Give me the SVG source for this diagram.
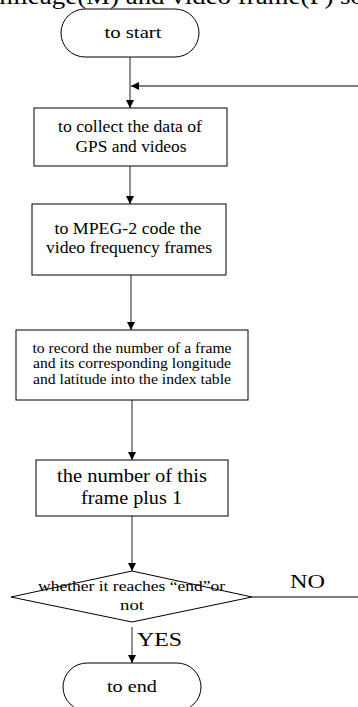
<svg xmlns="http://www.w3.org/2000/svg" width="358" height="707" viewBox="0 0 358 707">
  <defs>
    <marker id="arrow" viewBox="0 0 10 10" refX="10" refY="5" markerWidth="8" markerHeight="8" markerUnits="userSpaceOnUse" orient="auto">
      <path d="M0,0 L10,5 L0,10 Z" fill="#000"/>
    </marker>
    <style>
      .shape { fill: #fff; stroke: #000; stroke-width: 1; }
      .conn { fill: none; stroke: #555; stroke-width: 1.3; }
      text { font-family: "Liberation Serif", "Times New Roman", serif; fill: #000; text-anchor: middle; }
    </style>
  </defs>

  <!-- caption line running off the top edge -->
  <text x="178" y="4" font-size="24" textLength="372" lengthAdjust="spacingAndGlyphs">mileage(M) and video frame(F) so</text>

  <g id="connectors">
    <path class="conn" d="M130,57 V108" marker-end="url(#arrow)"/>
    <path class="conn" d="M358,86 H131" marker-end="url(#arrow)"/>
    <path class="conn" d="M130,166 V204" marker-end="url(#arrow)"/>
    <path class="conn" d="M131,275 V330" marker-end="url(#arrow)"/>
    <path class="conn" d="M132,400 V460" marker-end="url(#arrow)"/>
    <path class="conn" d="M132,516 V571" marker-end="url(#arrow)"/>
    <path class="conn" d="M252,597 H358"/>
    <path class="conn" d="M132,627 V663" marker-end="url(#arrow)"/>
  </g>

  <g id="start">
    <rect class="shape" x="61" y="9" width="138" height="48" rx="24" ry="24"/>
    <text x="133" y="38" font-size="17" textLength="57" lengthAdjust="spacingAndGlyphs">to start</text>
  </g>

  <g id="collect">
    <rect class="shape" x="34" y="108" width="193" height="58"/>
    <text x="130" y="132" font-size="16.5" textLength="144" lengthAdjust="spacingAndGlyphs">to collect the data of</text>
    <text x="131" y="152" font-size="16.5" textLength="111" lengthAdjust="spacingAndGlyphs">GPS and videos</text>
  </g>

  <g id="encode">
    <rect class="shape" x="32" y="204" width="194" height="71"/>
    <text x="128" y="234" font-size="16.5" textLength="147" lengthAdjust="spacingAndGlyphs">to MPEG-2 code the</text>
    <text x="129" y="253" font-size="16.5" textLength="166" lengthAdjust="spacingAndGlyphs">video frequency frames</text>
  </g>

  <g id="record">
    <rect class="shape" x="16" y="330" width="232" height="70"/>
    <text x="132" y="353" font-size="14.5" textLength="199" lengthAdjust="spacingAndGlyphs">to record the number of a frame</text>
    <text x="132" y="368" font-size="14.5" textLength="198" lengthAdjust="spacingAndGlyphs">and its corresponding longitude</text>
    <text x="132" y="384" font-size="14.5" textLength="198" lengthAdjust="spacingAndGlyphs">and latitude into the index table</text>
  </g>

  <g id="increment">
    <rect class="shape" x="36" y="460" width="192" height="56"/>
    <text x="132" y="482" font-size="19.5" textLength="150" lengthAdjust="spacingAndGlyphs">the number of this</text>
    <text x="131.5" y="504" font-size="19.5" textLength="101" lengthAdjust="spacingAndGlyphs">frame plus 1</text>
  </g>

  <g id="decision">
    <polygon class="shape" points="132,571 252,597 132,622 11,597"/>
    <text x="131.5" y="591" font-size="15.5" textLength="187" lengthAdjust="spacingAndGlyphs">whether it reaches “end”or</text>
    <text x="132" y="610" font-size="15.5" textLength="24" lengthAdjust="spacingAndGlyphs">not</text>
  </g>

  <text x="307.5" y="588" font-size="18" textLength="35" lengthAdjust="spacingAndGlyphs">NO</text>
  <text x="159.5" y="646" font-size="18" textLength="45" lengthAdjust="spacingAndGlyphs">YES</text>

  <g id="end">
    <rect class="shape" x="63" y="663" width="138" height="48" rx="24" ry="24"/>
    <text x="132" y="692" font-size="17" textLength="50" lengthAdjust="spacingAndGlyphs">to end</text>
  </g>
</svg>
